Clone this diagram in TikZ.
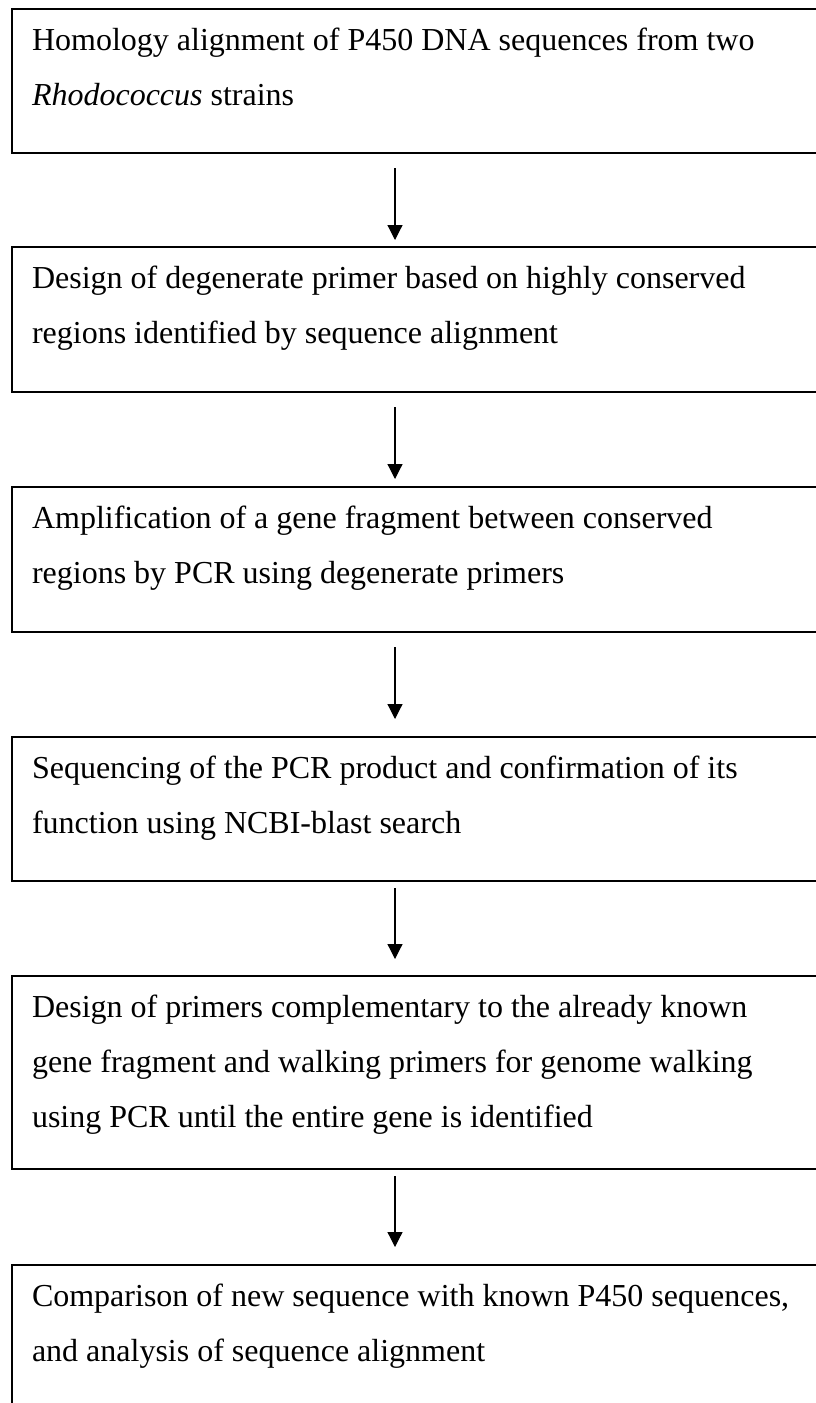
\documentclass[tikz,border=0pt]{standalone}
\usepackage{fontspec}
\setmainfont{Liberation Serif}
\usetikzlibrary{positioning,arrows.meta}
\newcommand{\boxtext}[2]{\parbox[t][#1][t]{788pt}{\raggedright\strut #2}}

\begin{document}
\begin{tikzpicture}[node distance=95pt, every node/.style={draw,line width=1.3pt,anchor=north west,inner xsep=20pt,inner ysep=2.5pt,outer sep=0pt,font=\fontsize{32}{55}\selectfont}, flow/.style={-{Triangle[length=15pt,width=15pt]},line width=1.2pt}]
\useasboundingbox (0pt,0pt) rectangle (816pt,-1403pt);
\clip (0pt,0pt) rectangle (816pt,-1403pt);
\coordinate (ax) at (395pt,0pt);
\node (align) at (12pt,-9pt) {\boxtext{139pt}{Homology alignment of P450 DNA sequences from two\\ \textit{Rhodococcus} strains}};
\node (primer) [below=94pt of align] {\boxtext{140pt}{Design of degenerate primer based on highly conserved\\ regions identified by sequence alignment}};
\node (pcr) [below=of primer] {\boxtext{140pt}{Amplification of a gene fragment between conserved\\ regions by PCR using degenerate primers}};
\node (seq) [below=105pt of pcr] {\boxtext{139pt}{Sequencing of the PCR product and confirmation of its\\ function using NCBI-blast search}};
\node (walk) [below=of seq] {\boxtext{188pt}{Design of primers complementary to the already known\\ gene fragment and walking primers for genome walking\\ using PCR until the entire gene is identified}};
\node (comp) [below=96pt of walk] {\boxtext{188pt}{Comparison of new sequence with known P450 sequences,\\ and analysis of sequence alignment}};
\draw[flow,shorten <=15pt,shorten >=7pt] (align.south -| ax) -- (primer.north -| ax);
\draw[flow,shorten <=15pt,shorten >=8pt] (primer.south -| ax) -- (pcr.north -| ax);
\draw[flow,shorten <=15pt,shorten >=18pt] (pcr.south -| ax) -- (seq.north -| ax);
\draw[flow,shorten <=7pt,shorten >=17pt] (seq.south -| ax) -- (walk.north -| ax);
\draw[flow,shorten <=7pt,shorten >=18pt] (walk.south -| ax) -- (comp.north -| ax);
\end{tikzpicture}
\end{document}
